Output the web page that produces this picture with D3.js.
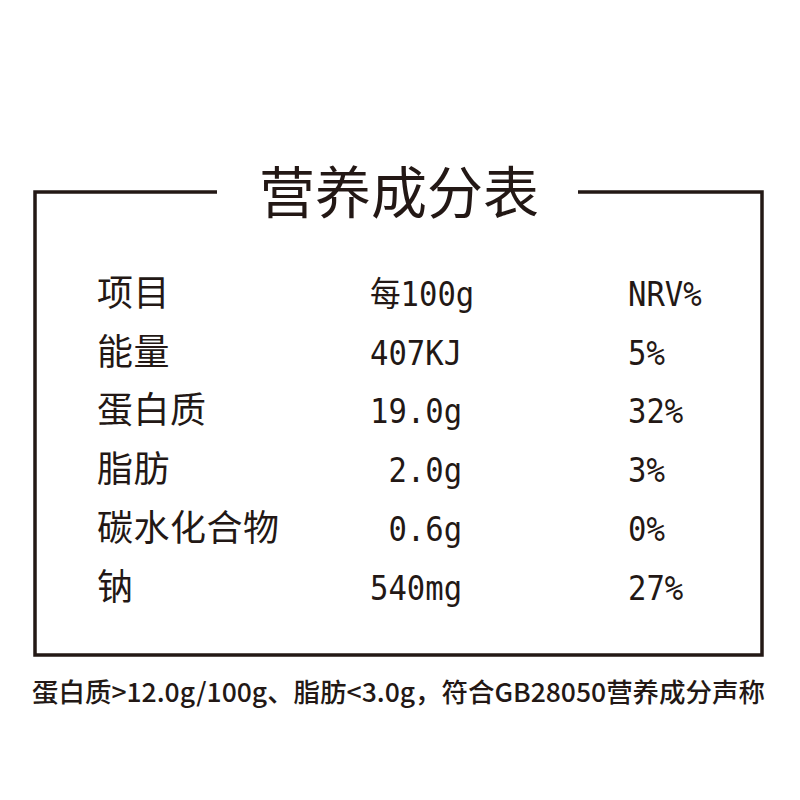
<!DOCTYPE html>
<html>
<head>
<meta charset="utf-8">
<script src="https://cdn.jsdelivr.net/npm/d3@7"></script>
<style>
  html, body { margin: 0; padding: 0; background: #fff; }
  svg { display: block; }
</style>
</head>
<body>
<div id="chart"></div>
<script>
// table content
var title = "营养成分表";
var items = ["项目", "能量", "蛋白质", "脂肪", "碳水化合物", "钠"];
var perHundred = ["每100g", "407KJ", "19.0g", " 2.0g", " 0.6g", "540mg"];
var nrv = ["NRV%", "5%", "32%", "3%", "0%", "27%"];
var footnote = "蛋白质>12.0g/100g、脂肪<3.0g，符合GB28050营养成分声称";

var ink = "#231815";
var width = 800, height = 800;

var svg = d3.select("#chart").append("svg")
  .attr("width", width)
  .attr("height", height);

// frame with a gap in the top edge for the title
var frame = { left: 35, right: 762, top: 192, bottom: 655, gapL: 217, gapR: 578 };
var line = d3.line();
svg.append("path")
  .attr("d", line([
    [frame.gapL, frame.top], [frame.left, frame.top],
    [frame.left, frame.bottom], [frame.right, frame.bottom],
    [frame.right, frame.top], [frame.gapR, frame.top]
  ]))
  .attr("fill", "none")
  .attr("stroke", ink)
  .attr("stroke-width", 3.5);

svg.append("text")
  .attr("x", 399)
  .attr("y", 213)
  .attr("text-anchor", "middle")
  .attr("font-family", "'Noto Sans CJK SC', sans-serif")
  .attr("font-size", 56)
  .attr("fill", ink)
  .text(title);

// rows
var y = d3.scalePoint()
  .domain(d3.range(items.length))
  .range([306, 599.5]);

var cjk = "'Noto Sans CJK SC', sans-serif";
var mono = "'DejaVu Sans Mono', 'Noto Sans CJK SC', monospace";

svg.append("g").selectAll("text")
  .data(items)
  .join("text")
  .attr("x", 97)
  .attr("y", function (d, i) { return y(i); })
  .attr("font-family", cjk)
  .attr("font-size", 36)
  .attr("letter-spacing", 0.5)
  .attr("fill", ink)
  .text(function (d) { return d; });

function monoColumn(data, x) {
  svg.append("g").selectAll("text")
    .data(data)
    .join("text")
    .attr("transform", function (d, i) { return "translate(" + x + "," + y(i) + ") scale(0.9,1)"; })
    .attr("xml:space", "preserve")
    .style("white-space", "pre")
    .attr("font-family", mono)
    .attr("font-size", 34)
    .attr("fill", ink)
    .text(function (d) { return d; });
}
monoColumn(perHundred, 370);
monoColumn(nrv, 628);

svg.append("text")
  .attr("x", 32)
  .attr("y", 702)
  .attr("font-family", cjk)
  .attr("font-size", 26)
  .attr("font-weight", 500)
  .attr("textLength", 733)
  .attr("lengthAdjust", "spacingAndGlyphs")
  .attr("fill", ink)
  .text(footnote);
</script>
</body>
</html>
